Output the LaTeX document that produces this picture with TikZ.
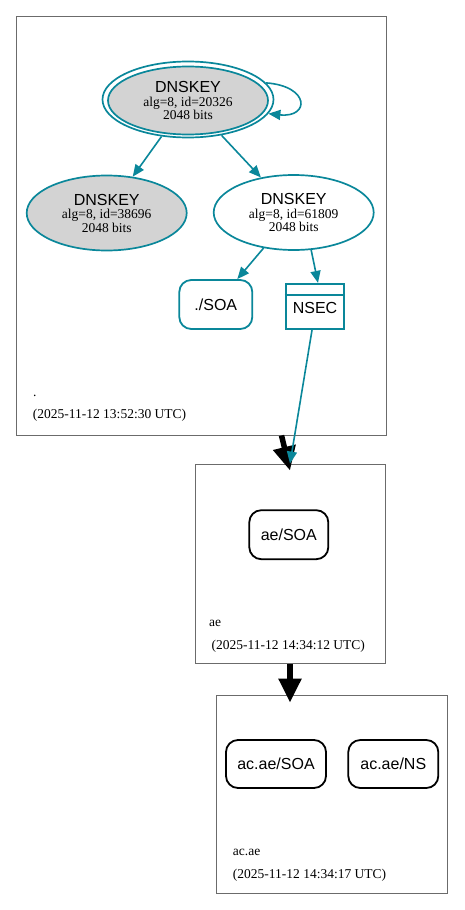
\documentclass[tikz,border=0pt]{standalone}
\usepackage{fontspec}
\setmainfont{Liberation Serif}
\setsansfont{Liberation Sans}
\usetikzlibrary{shapes.geometric,arrows.meta}
\definecolor{dteal}{HTML}{0A879A}
\definecolor{boxgray}{gray}{0.42}
\definecolor{keygray}{HTML}{D3D3D3}
\begin{document}
\begin{tikzpicture}[x=1pt,y=-1pt,
  zonebox/.style={draw=boxgray, line width=0.9pt, inner sep=0pt},
  keynode/.style={ellipse, draw=dteal, line width=1.7pt, inner sep=0pt,
    minimum width=160pt, minimum height=75pt, align=center,
    font=\fontsize{13.5}{13.5}\selectfont},
  rrnode/.style={rounded corners=12pt, draw, line width=1.8pt,
    font=\sffamily\fontsize{16}{16}\selectfont, inner sep=0pt},
  nsecnode/.style={draw=dteal, line width=2.2pt, inner sep=0pt,
    font=\sffamily\fontsize{16}{16}\selectfont, text height=14.5pt, text depth=0pt},
  zonelabel/.style={inner sep=0pt, font=\fontsize{13.5}{13.5}\selectfont},
  tedge/.style={draw=dteal, line width=1.6pt, -{Triangle[length=12pt,width=10pt]}},
  bedge/.style={draw=black, line width=5.5pt, -{Triangle[length=24pt,width=22pt]}}
]
\useasboundingbox (0,0) rectangle (464,910);

% zone boxes
\node[zonebox, minimum width=370pt, minimum height=419pt] (box1) at (201,225.5) {};
\node[zonebox, minimum width=190pt, minimum height=199.5pt] (box2) at (290,563.75) {};
\node[zonebox, minimum width=231pt, minimum height=198pt] (box3) at (331.5,794) {};

% root zone keys
\node[ellipse, draw=dteal, line width=1.7pt, inner sep=0pt,
  minimum width=171pt, minimum height=76pt] (k20326o) at (188,99.5) {};
\node[keynode, fill=keygray, minimum width=160pt, minimum height=68pt] (k20326) at (188,100.5)
  {{\sffamily\fontsize{16}{13.5}\selectfont DNSKEY}\\alg=8, id=20326\\2048 bits};
\node[keynode, fill=keygray] (k38696) at (106.7,213)
  {{\sffamily\fontsize{16}{13.5}\selectfont DNSKEY}\\alg=8, id=38696\\2048 bits};
\node[keynode, fill=white] (k61809) at (293.7,212.5)
  {{\sffamily\fontsize{16}{13.5}\selectfont DNSKEY}\\alg=8, id=61809\\2048 bits};

\node[rrnode, draw=dteal, minimum width=73pt, minimum height=49pt] (rootsoa) at (215.8,304.5) {./SOA};
\node[nsecnode, minimum width=58.6pt, minimum height=45pt] (nsec) at (315,306.5) {NSEC};
\draw[draw=dteal, line width=2.2pt] ([yshift=-11.7pt]nsec.north west) -- ([yshift=-11.7pt]nsec.north east);

% root labels
\node[zonelabel, anchor=base west] (rootname) at (33,396) {.};
\node[zonelabel, anchor=west] (rootdate) at (32.7,415) {(2025-11-12 13:52:30 UTC)};

% ae zone
\node[rrnode, minimum width=79pt, minimum height=49pt] (aesoa) at (288.8,534.7) {ae/SOA};
\node[zonelabel, anchor=base west] (aename) at (209,626) {ae};
\node[zonelabel, anchor=west] (aedate) at (211.5,646.5) {(2025-11-12 14:34:12 UTC)};

% ac.ae zone
\node[rrnode, minimum width=100pt, minimum height=48pt] (acsoa) at (276,764) {ac.ae/SOA};
\node[rrnode, minimum width=90pt, minimum height=48pt] (acns) at (393.3,764) {ac.ae/NS};
\node[zonelabel, anchor=base west] (acname) at (232.7,855) {ac.ae};
\node[zonelabel, anchor=west] (acdate) at (232.7,875) {(2025-11-12 14:34:17 UTC)};

% teal edges
\draw[tedge] (k20326o.12) .. controls (310,86) and (310,118) .. (k20326o.-10);
\draw[tedge] (k20326o) -- (k38696);
\draw[tedge] (k20326o) -- (k61809);
\draw[tedge] (k61809) -- (rootsoa);
\draw[tedge] (k61809.-65) -- ([xshift=3pt]nsec.north);

% black delegation edges
\draw[bedge] ([xshift=80.5pt]box1.south) -- ([yshift=-7pt]box2.north);
\draw[tedge] ([xshift=-3pt]nsec.south) -- (box2.north);
\draw[bedge] (box2.south) -- ([yshift=-8pt]box2.south |- box3.north);
\end{tikzpicture}
\end{document}
